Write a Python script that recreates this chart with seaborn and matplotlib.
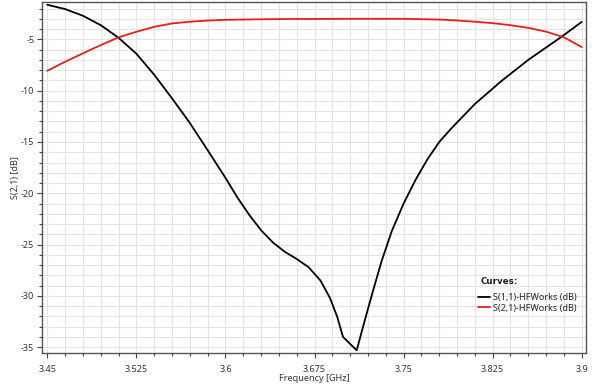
import numpy as np
import pandas as pd
import matplotlib
matplotlib.use("Agg")
import matplotlib.pyplot as plt
import seaborn as sns
from matplotlib.ticker import MultipleLocator, FixedLocator

# ---- data ----
s11_freq = [3.45, 3.465, 3.48, 3.495, 3.51, 3.525, 3.54, 3.555, 3.57, 3.585,
            3.6, 3.61, 3.62, 3.63, 3.64, 3.65, 3.66, 3.67, 3.68, 3.688,
            3.694, 3.699, 3.7105, 3.7175, 3.7245, 3.7315, 3.74, 3.75, 3.76,
            3.77, 3.78, 3.79, 3.8, 3.81, 3.82, 3.833, 3.855, 3.883, 3.9]
s11_db = [-1.63, -2.05, -2.7, -3.62, -4.85, -6.4, -8.45, -10.75, -13.15, -15.8,
          -18.5, -20.4, -22.1, -23.6, -24.8, -25.7, -26.4, -27.2, -28.5, -30.2,
          -32.0, -34.0, -35.3, -32.3, -29.4, -26.6, -23.7, -21.0, -18.7,
          -16.7, -15.0, -13.7, -12.5, -11.3, -10.3, -9.0, -7.0, -4.75, -3.3]

s21_freq = [3.45, 3.465, 3.48, 3.495, 3.51, 3.525, 3.54, 3.555, 3.57, 3.585,
            3.6, 3.625, 3.65, 3.7, 3.75, 3.78, 3.795, 3.81, 3.825, 3.84,
            3.855, 3.87, 3.885, 3.9]
s21_db = [-8.06, -7.18, -6.36, -5.56, -4.8, -4.26, -3.78, -3.45, -3.28, -3.17,
          -3.1, -3.05, -3.02, -3.0, -3.0, -3.07, -3.16, -3.28, -3.42, -3.62,
          -3.88, -4.25, -4.8, -5.75]

series_names = ["S(1,1)-HFWorks (dB)", "S(2,1)-HFWorks (dB)"]
xtick_vals = [3.45, 3.525, 3.6, 3.675, 3.75, 3.825, 3.9]
xtick_labels = ["3.45", "3.525", "3.6", "3.675", "3.75", "3.825", "3.9"]
ytick_vals = [-5, -10, -15, -20, -25, -30, -35]
ytick_labels = ["-5", "-10", "-15", "-20", "-25", "-30", "-35"]

df = pd.concat([
    pd.DataFrame({"freq": s11_freq, "db": s11_db, "curve": series_names[0]}),
    pd.DataFrame({"freq": s21_freq, "db": s21_db, "curve": series_names[1]}),
], ignore_index=True)

sns.set_theme(style="white")
plt.rcParams["font.family"] = ["Noto Sans", "DejaVu Sans"]

fig = plt.figure(figsize=(6.0, 3.91), dpi=100)
ax = fig.add_axes([42/600, 1-353/391, 544/600, 351/391])

palette = {series_names[0]: "#000000", series_names[1]: "#e3201c"}
sns.lineplot(data=df, x="freq", y="db", hue="curve", palette=palette,
             sort=False, linewidth=1.3, ax=ax, estimator=None)

ax.set_xlim(3.4455, 3.9036)
ax.set_ylim(-35.56, -1.36)

ax.xaxis.set_major_locator(FixedLocator(xtick_vals))
ax.set_xticklabels(xtick_labels)
ax.xaxis.set_minor_locator(MultipleLocator(0.015))
ax.yaxis.set_major_locator(FixedLocator(ytick_vals))
ax.set_yticklabels(ytick_labels)
ax.yaxis.set_minor_locator(MultipleLocator(1))

ax.grid(True, which="both", color="#e3e3e3", linewidth=0.8)
ax.set_axisbelow(True)
for sp in ax.spines.values():
    sp.set_color("#555555")
    sp.set_linewidth(1.0)

ax.tick_params(axis="both", which="major", direction="out", length=3.5,
               width=0.8, color="#444444", labelsize=6.5, labelcolor="#333333",
               bottom=True, left=True, pad=2)
ax.tick_params(axis="both", which="minor", direction="out", length=2.5,
               width=0.8, color="#444444", bottom=True, left=True)
ax.tick_params(axis="x", which="major", pad=5)

ax.set_xlabel("Frequency [GHz]", fontsize=6.5, color="#333333", labelpad=0)
ax.set_ylabel("S(2,1) [dB]", fontsize=6.5, color="#333333", labelpad=0.5)

handles, labels = ax.get_legend_handles_labels()
leg = ax.legend(handles, labels, loc="lower left",
                bbox_to_anchor=(0.795, 0.105), frameon=False, fontsize=6.5,
                handlelength=1.3, handletextpad=0.3,
                labelspacing=0.15, borderaxespad=0)
for line in leg.get_lines():
    line.set_linewidth(1.3)
for t in leg.get_texts():
    t.set_color("#222222")
ax.text(0.806, 0.205, "Curves:", transform=ax.transAxes, fontsize=6.3,
        fontweight="bold", family=["DejaVu Sans"], color="#222222",
        ha="left", va="center")

fig.savefig("out.png", dpi=100, facecolor="white")
